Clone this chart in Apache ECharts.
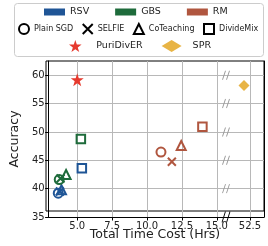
<!DOCTYPE html>
<html>
<head>
<meta charset="utf-8">
<script src="https://cdn.jsdelivr.net/npm/echarts@6/dist/echarts.min.js"></script>
<style>
	html, body { margin: 0; padding: 0; background: #fff; }
	#main { width: 268px; height: 246px; }
</style>
</head>
<body>
<div id="main"></div>
<script>
//数据
var methods = ['Plain SGD', 'SELFIE', 'CoTeaching', 'DivideMix'];
var rsvTime = [3.64, 3.76, 3.87, 5.33];
var rsvAcc = [39.2, 39.5, 39.8, 43.6];
var gbsTime = [3.71, 3.8, 4.2, 5.26];
var gbsAcc = [41.6, 41.8, 42.5, 48.75];
var rmTime = [11.0, 11.78, 12.45, 13.97];
var rmAcc = [46.45, 44.75, 47.6, 50.9];
var puriTime = [5.0];
var puriAcc = [59.2];
var sprTime = [52.08];
var sprAcc = [58.2];
var xTicksLeft = [5, 7.5, 10, 12.5, 15];
var xTicksRight = [52.5];
var yTicks = [35, 40, 45, 50, 55, 60];
var breakAcc = [40, 45, 50, 55, 60];

var font = 'DejaVu Sans';
var colRSV = '#1f5596', colGBS = '#1e6b3b', colRM = '#b0563f';
var colStar = '#e63a2e', colSPR = '#e8b445';
var xPath = 'path://M0,0L10,10M10,0L0,10';
var starPath = 'path://M50,0L61.8,35.1L98.9,35.5L69.1,57.6L80.2,93L50,71.5L19.8,93L30.9,57.6L1.1,35.5L38.2,35.1Z';
var shapes = ['circle', xPath, 'triangle', 'rect'];
var sizes = [9, 8, 9, 8.5];
var leftMax = 15.66;

function points(times, accs) {
	var arr = [];
	for(var i = 0; i < times.length; i++) {
		arr.push({ value: [times[i], accs[i]], symbol: shapes[i], symbolSize: sizes[i] });
	}
	return arr;
}

function pairs(times, accs) {
	var arr = [];
	for(var i = 0; i < times.length; i++) {
		arr.push([times[i], accs[i]]);
	}
	return arr;
}

function hollow(c) {
	return { color: 'transparent', borderColor: c, borderWidth: 2, opacity: 1 };
}

function yAxisOf(grid, showLabel, pos) {
	return {
		type: 'value', gridIndex: grid, min: 35, max: 62.5, position: pos,
		axisLine: { show: true, lineStyle: { color: '#000', width: 1 } },
		axisTick: { show: showLabel, length: 3.5, inside: false, customValues: yTicks, lineStyle: { color: '#000' } },
		axisLabel: { show: showLabel, customValues: yTicks, margin: 4, fontFamily: font, fontSize: 10, color: '#222' },
		splitLine: { show: true, lineStyle: { color: '#b8b8b8', width: 1 } },
		name: showLabel ? 'Accuracy' : '',
		nameLocation: 'middle', nameGap: 16,
		nameTextStyle: { fontFamily: font, fontSize: 12.5, color: '#222' }
	};
}

function xAxisOf(grid, mn, mx, ticks) {
	return {
		type: 'value', gridIndex: grid, min: mn, max: mx,
		axisLine: { show: true, lineStyle: { color: '#000', width: 1 } },
		axisTick: { show: true, length: 3.5, customValues: ticks, lineStyle: { color: '#000' } },
		axisLabel: {
			show: true, customValues: ticks, margin: 4, fontFamily: font, fontSize: 10, color: '#222',
			formatter: function(v) { return v.toFixed(1); }
		},
		splitLine: { show: true, lineStyle: { color: '#b8b8b8', width: 1 } }
	};
}

var chart = echarts.init(document.getElementById('main'));
var option = {
	animation: false,
	graphic: [{
		type: 'rect', z: 0,
		shape: { x: 14.5, y: 3.5, width: 249, height: 53, r: 3 },
		style: { fill: '#fff', stroke: '#cccccc', lineWidth: 1 }
	}],
	grid: [
		{ left: 46, top: 61, width: 180, bottom: 29 },
		{ left: 226, top: 61, right: 4, bottom: 29 },
		{ left: 46, top: 61, right: 4, bottom: 29, show: true, borderColor: '#000', borderWidth: 1 }
	],
	xAxis: [
		xAxisOf(0, 2.95, leftMax, xTicksLeft),
		xAxisOf(1, 50.8, 53.5, xTicksRight),
		{
			type: 'value', gridIndex: 2, min: 0, max: 1,
			axisLine: { show: false }, axisTick: { show: false }, axisLabel: { show: false }, splitLine: { show: false },
			name: 'Total Time Cost (Hrs)', nameLocation: 'middle', nameGap: 17,
			nameTextStyle: { fontFamily: font, fontSize: 12.5, color: '#222' }
		}
	],
	yAxis: [
		yAxisOf(0, true, 'left'),
		yAxisOf(1, false, 'right'),
		{ type: 'value', gridIndex: 2, min: 0, max: 1, show: false }
	],
	legend: [{
		left: 44, top: 7, padding: 0, itemGap: 26, itemWidth: 21, itemHeight: 7, selectedMode: false,
		textStyle: { fontFamily: font, fontSize: 9.5, color: '#222' },
		data: [
			{ name: 'RSV', icon: 'rect', itemStyle: { color: colRSV, borderWidth: 0, opacity: 1 } },
			{ name: 'GBS', icon: 'rect', itemStyle: { color: colGBS, borderWidth: 0, opacity: 1 } },
			{ name: 'RM', icon: 'rect', itemStyle: { color: colRM, borderWidth: 0, opacity: 1 } }
		]
	}, {
		left: 18, top: 23, padding: 0, itemGap: 8.5, itemWidth: 10, itemHeight: 10, selectedMode: false,
		textStyle: { fontFamily: font, fontSize: 8, color: '#222' },
		data: methods.map(function(m, i) {
			return { name: m, icon: shapes[i], itemStyle: { color: 'transparent', borderColor: '#000', borderWidth: 2, opacity: 1 } };
		})
	}, {
		left: 69, top: 40, padding: 0, itemGap: 19, itemWidth: 20, itemHeight: 12, selectedMode: false,
		textStyle: { fontFamily: font, fontSize: 9.5, color: '#222', padding: [0, 0, 0, 6] },
		data: [
			{ name: 'PuriDivER', icon: starPath, itemStyle: { color: colStar, opacity: 1 } },
			{ name: 'SPR', icon: 'diamond', itemStyle: { color: colSPR, opacity: 1 } }
		]
	}],
	series: [
		{ name: 'RSV', type: 'scatter', xAxisIndex: 0, yAxisIndex: 0, itemStyle: hollow(colRSV), data: points(rsvTime, rsvAcc) },
		{ name: 'GBS', type: 'scatter', xAxisIndex: 0, yAxisIndex: 0, itemStyle: hollow(colGBS), data: points(gbsTime, gbsAcc) },
		{ name: 'RM', type: 'scatter', xAxisIndex: 0, yAxisIndex: 0, itemStyle: hollow(colRM), data: points(rmTime, rmAcc) },
		{ name: 'Plain SGD', type: 'scatter', data: [] },
		{ name: 'SELFIE', type: 'scatter', data: [] },
		{ name: 'CoTeaching', type: 'scatter', data: [] },
		{ name: 'DivideMix', type: 'scatter', data: [] },
		{
			name: 'PuriDivER', type: 'scatter', xAxisIndex: 0, yAxisIndex: 0, clip: false,
			symbol: starPath, symbolSize: 13, itemStyle: { color: colStar, opacity: 1 }, data: pairs(puriTime, puriAcc)
		},
		{
			name: 'SPR', type: 'scatter', xAxisIndex: 1, yAxisIndex: 1, symbol: 'diamond',
			symbolSize: 11, itemStyle: { color: colSPR, opacity: 1 }, data: pairs(sprTime, sprAcc)
		},
		//断轴标记
		{
			type: 'scatter', xAxisIndex: 0, yAxisIndex: 0, clip: false, silent: true,
			symbol: 'path://M0,10L3,0M4,10L7,0', symbolSize: [7, 9],
			itemStyle: { color: 'transparent', borderColor: '#999', borderWidth: 1, opacity: 1 },
			data: breakAcc.map(function(a) { return [leftMax, a]; })
		},
		{
			type: 'scatter', xAxisIndex: 0, yAxisIndex: 0, clip: false, silent: true, z: 5,
			symbol: 'path://M0,10L3,0M4,10L7,0', symbolSize: [8, 11],
			itemStyle: { color: 'transparent', borderColor: '#000', borderWidth: 1, opacity: 1 },
			data: [[leftMax, 35]]
		}
	]
};
chart.setOption(option);
</script>
</body>
</html>
